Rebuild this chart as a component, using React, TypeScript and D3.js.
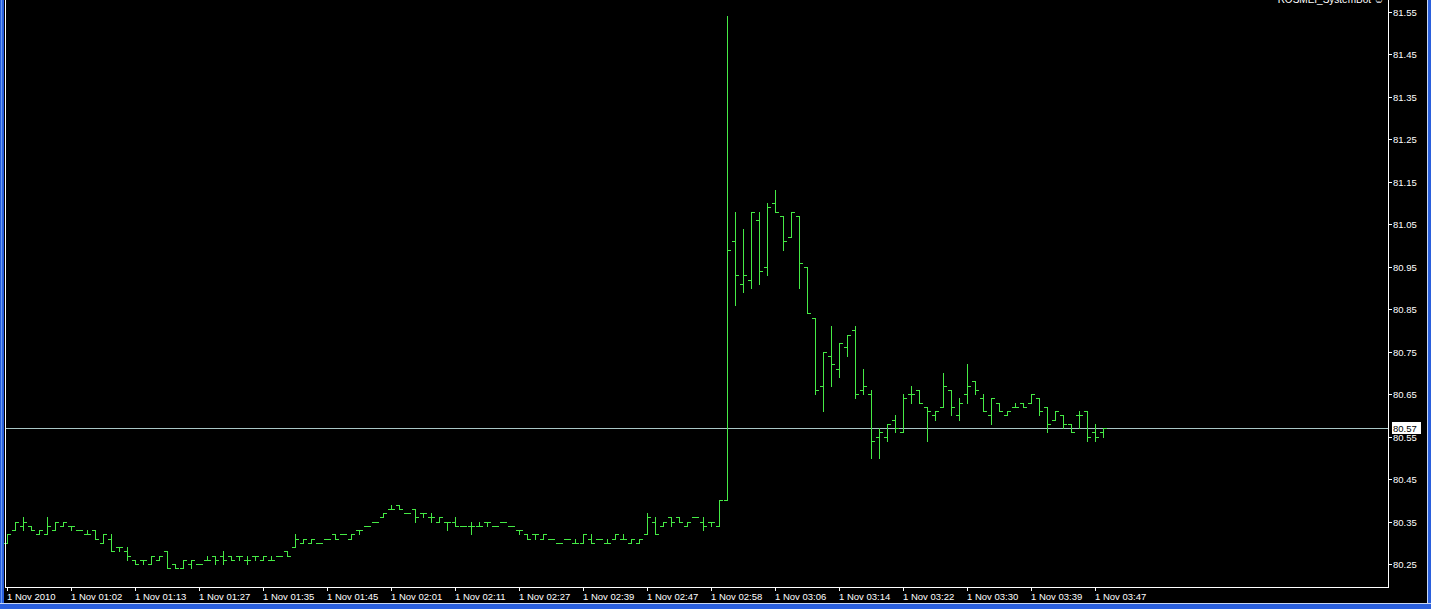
import * as d3 from "d3";

// ── Data ──────────────────────────────────────────────────────────────────────

const timeLabels = [
  "1 Nov 2010", "1 Nov 01:02", "1 Nov 01:13", "1 Nov 01:27", "1 Nov 01:35",
  "1 Nov 01:45", "1 Nov 02:01", "1 Nov 02:11", "1 Nov 02:27", "1 Nov 02:39",
  "1 Nov 02:47", "1 Nov 02:58", "1 Nov 03:06", "1 Nov 03:14", "1 Nov 03:22",
  "1 Nov 03:30", "1 Nov 03:39", "1 Nov 03:47",
];

const priceTicks = [
  81.55, 81.45, 81.35, 81.25, 81.15, 81.05, 80.95,
  80.85, 80.75, 80.65, 80.55, 80.45, 80.35, 80.25,
];

const opens = [
  80.30, 80.33, 80.34, 80.34, 80.32, 80.32, 80.33, 80.34, 80.34, 80.33,
  80.32, 80.33, 80.30, 80.31, 80.29, 80.28, 80.26, 80.26, 80.25, 80.26,
  80.28, 80.25, 80.24, 80.25, 80.25, 80.26, 80.27, 80.27, 80.27, 80.27,
  80.26, 80.27, 80.26, 80.26, 80.27, 80.28, 80.29, 80.30, 80.30, 80.30,
  80.31, 80.32, 80.32, 80.31, 80.33, 80.34, 80.35, 80.36, 80.38, 80.39,
  80.37, 80.38, 80.37, 80.36, 80.35, 80.35, 80.35, 80.34, 80.34, 80.34,
  80.35, 80.34, 80.35, 80.34, 80.33, 80.32, 80.32, 80.31, 80.31, 80.30,
  80.31, 80.30, 80.30, 80.31, 80.31, 80.30, 80.31, 80.31, 80.30, 80.30,
  80.32, 80.35, 80.34, 80.36, 80.36, 80.34, 80.36, 80.35, 80.35, 80.34,
  80.40, 81.01, 80.91, 80.92, 81.06, 80.95, 81.10, 81.07, 81.02, 81.07,
  80.95, 80.83, 80.67, 80.74, 80.71, 80.76, 80.80, 80.66, 80.65, 80.55,
  80.55, 80.59, 80.56, 80.65, 80.66, 80.62, 80.60, 80.62, 80.66, 80.60,
  80.65, 80.68, 80.64, 80.60, 80.63, 80.60, 80.62, 80.63, 80.63, 80.64,
  80.62, 80.59, 80.60, 80.58, 80.60, 80.61, 80.56, 80.56,
];

const highs = [
  80.32, 80.35, 80.36, 80.34, 80.33, 80.36, 80.35, 80.35, 80.34, 80.33,
  80.33, 80.33, 80.32, 80.32, 80.29, 80.29, 80.26, 80.26, 80.27, 80.27,
  80.28, 80.25, 80.26, 80.26, 80.25, 80.27, 80.27, 80.28, 80.27, 80.27,
  80.27, 80.27, 80.27, 80.27, 80.27, 80.28, 80.32, 80.31, 80.31, 80.30,
  80.31, 80.32, 80.32, 80.32, 80.33, 80.34, 80.35, 80.37, 80.39, 80.39,
  80.37, 80.38, 80.37, 80.37, 80.36, 80.35, 80.36, 80.34, 80.35, 80.35,
  80.35, 80.34, 80.35, 80.34, 80.33, 80.32, 80.32, 80.32, 80.31, 80.30,
  80.31, 80.31, 80.32, 80.32, 80.31, 80.31, 80.32, 80.32, 80.31, 80.31,
  80.37, 80.36, 80.35, 80.36, 80.36, 80.35, 80.36, 80.36, 80.35, 80.40,
  81.54, 81.08, 81.04, 81.08, 81.08, 81.10, 81.13, 81.07, 81.08, 81.07,
  80.95, 80.83, 80.75, 80.81, 80.77, 80.79, 80.81, 80.71, 80.66, 80.57,
  80.58, 80.60, 80.65, 80.67, 80.66, 80.62, 80.61, 80.70, 80.66, 80.64,
  80.72, 80.68, 80.65, 80.64, 80.63, 80.61, 80.63, 80.63, 80.65, 80.64,
  80.62, 80.61, 80.60, 80.58, 80.61, 80.61, 80.58, 80.57,
];

const lows = [
  80.30, 80.33, 80.33, 80.33, 80.32, 80.32, 80.33, 80.34, 80.33, 80.33,
  80.32, 80.31, 80.30, 80.28, 80.28, 80.26, 80.25, 80.25, 80.25, 80.26,
  80.24, 80.24, 80.24, 80.24, 80.25, 80.26, 80.25, 80.25, 80.26, 80.26,
  80.25, 80.26, 80.26, 80.26, 80.27, 80.27, 80.29, 80.30, 80.30, 80.30,
  80.31, 80.31, 80.32, 80.31, 80.32, 80.34, 80.35, 80.36, 80.38, 80.38,
  80.37, 80.35, 80.36, 80.35, 80.35, 80.33, 80.34, 80.34, 80.32, 80.34,
  80.34, 80.34, 80.35, 80.34, 80.32, 80.31, 80.31, 80.31, 80.31, 80.30,
  80.31, 80.30, 80.30, 80.30, 80.31, 80.30, 80.31, 80.31, 80.30, 80.30,
  80.32, 80.32, 80.34, 80.34, 80.35, 80.34, 80.36, 80.33, 80.34, 80.34,
  80.40, 80.86, 80.89, 80.90, 80.91, 80.93, 81.08, 80.99, 81.02, 80.90,
  80.84, 80.65, 80.61, 80.67, 80.69, 80.74, 80.64, 80.65, 80.50, 80.50,
  80.54, 80.56, 80.56, 80.63, 80.63, 80.54, 80.59, 80.62, 80.60, 80.59,
  80.63, 80.65, 80.61, 80.58, 80.61, 80.60, 80.62, 80.62, 80.63, 80.60,
  80.56, 80.59, 80.57, 80.56, 80.57, 80.54, 80.54, 80.55,
];

const closes = [
  80.32, 80.35, 80.35, 80.33, 80.33, 80.34, 80.35, 80.35, 80.34, 80.33,
  80.32, 80.31, 80.32, 80.28, 80.29, 80.27, 80.25, 80.26, 80.27, 80.27,
  80.24, 80.24, 80.26, 80.26, 80.25, 80.26, 80.26, 80.26, 80.26, 80.27,
  80.26, 80.27, 80.27, 80.26, 80.27, 80.27, 80.31, 80.31, 80.31, 80.30,
  80.31, 80.31, 80.32, 80.32, 80.33, 80.34, 80.35, 80.37, 80.38, 80.38,
  80.37, 80.36, 80.37, 80.36, 80.36, 80.35, 80.34, 80.34, 80.34, 80.34,
  80.35, 80.34, 80.35, 80.34, 80.33, 80.31, 80.32, 80.32, 80.31, 80.30,
  80.31, 80.30, 80.32, 80.30, 80.31, 80.30, 80.32, 80.31, 80.31, 80.31,
  80.36, 80.32, 80.35, 80.35, 80.35, 80.35, 80.36, 80.34, 80.35, 80.40,
  80.99, 80.93, 80.93, 81.08, 80.94, 81.09, 81.08, 81.01, 81.08, 80.96,
  80.84, 80.66, 80.75, 80.72, 80.77, 80.79, 80.65, 80.67, 80.54, 80.56,
  80.58, 80.57, 80.64, 80.65, 80.63, 80.61, 80.61, 80.67, 80.62, 80.63,
  80.67, 80.66, 80.61, 80.64, 80.61, 80.61, 80.62, 80.62, 80.65, 80.61,
  80.58, 80.61, 80.58, 80.56, 80.60, 80.55, 80.55, 80.57,
];

const lastPrice = 80.57;
const expertName = "ROSMEI_SystemBot ☺";

// ── Layout / style ────────────────────────────────────────────────────────────

const W = 1431;
const H = 609;
const frameLeft = 5;
const frameRight = 1388;
const frameBottom = 587;
const barStep = 8;
const barColor = "#45ea45";
const font = "'Liberation Sans', Arial, sans-serif";

export default function App() {
  const n = opens.length;
  const x = d3
    .scaleLinear()
    .domain([0, n - 1])
    .range([7, 7 + barStep * (n - 1)]);
  const y = d3.scaleLinear().domain([80.25, 81.55]).range([564, 12]);
  const ry = (v: number) => Math.round(y(v));

  // MT4 style bars: high-low stick, open tick left, close tick right
  const bars = d3.range(n).map((i) => {
    const bx = Math.round(x(i));
    const yh = ry(highs[i]);
    const yl = ry(lows[i]);
    return (
      <g key={i}>
        <rect x={bx} y={yh} width={1} height={Math.max(1, yl - yh + 1)} />
        <rect x={bx - 3} y={ry(opens[i])} width={3} height={1} />
        <rect x={bx + 1} y={ry(closes[i])} width={3} height={1} />
      </g>
    );
  });

  const bidY = ry(lastPrice);

  return (
    <div style={{ position: "fixed", left: 0, top: 0 }}>
      <svg width={W} height={H} style={{ display: "block" }} shapeRendering="crispEdges">
        <rect x={0} y={0} width={W} height={H} fill="#000" />

        {/* window border */}
        <rect x={0} y={0} width={4} height={H} fill="#2a5fdc" />
        <rect x={1} y={0} width={1} height={H} fill="#6b9cf2" />
        <rect x={1427} y={0} width={4} height={H} fill="#2a5fdc" />
        <rect x={1427} y={0} width={1} height={H} fill="#c8d8f4" />
        <rect x={0} y={603} width={W} height={6} fill="#2a5fdc" />
        <rect x={0} y={603} width={W} height={1} fill="#c8d8f4" />

        {/* expert label, cut at the top as in the terminal */}
        <text x={1384} y={3} textAnchor="end" fill="#fff" fontFamily={font} fontSize={10}>
          {expertName}
        </text>

        {/* bid line */}
        <rect x={frameLeft + 1} y={bidY} width={frameRight - frameLeft - 1} height={1} fill="#a9c6c6" />

        {/* OHLC bars */}
        <g fill={barColor}>{bars}</g>

        {/* frame */}
        <g fill="#fff">
          <rect x={frameLeft} y={0} width={1} height={frameBottom + 1} />
          <rect x={frameRight} y={0} width={1} height={frameBottom + 1} />
          <rect x={frameLeft} y={frameBottom} width={frameRight - frameLeft + 1} height={1} />
        </g>

        {/* price axis */}
        <g fill="#fff" fontFamily={font} fontSize={9.5}>
          {priceTicks.map((p) => (
            <g key={p}>
              <rect x={frameRight + 1} y={ry(p)} width={3} height={1} />
              <text x={1393} y={ry(p) + 4} shapeRendering="auto">
                {p.toFixed(2)}
              </text>
            </g>
          ))}
        </g>

        {/* last price marker */}
        <rect x={1392} y={bidY - 6} width={29} height={12} fill="#fff" />
        <text x={1393} y={bidY + 4} fill="#000" fontFamily={font} fontSize={9.5}>
          {lastPrice.toFixed(2)}
        </text>

        {/* time axis */}
        <g fill="#fff" fontFamily={font} fontSize={9.5}>
          {timeLabels.map((t, k) => {
            const tx = Math.round(x(k * 8));
            return (
              <g key={t}>
                <rect x={tx} y={frameBottom + 1} width={1} height={3} />
                <text x={tx} y={600}>
                  {t}
                </text>
              </g>
            );
          })}
        </g>
      </svg>
    </div>
  );
}
